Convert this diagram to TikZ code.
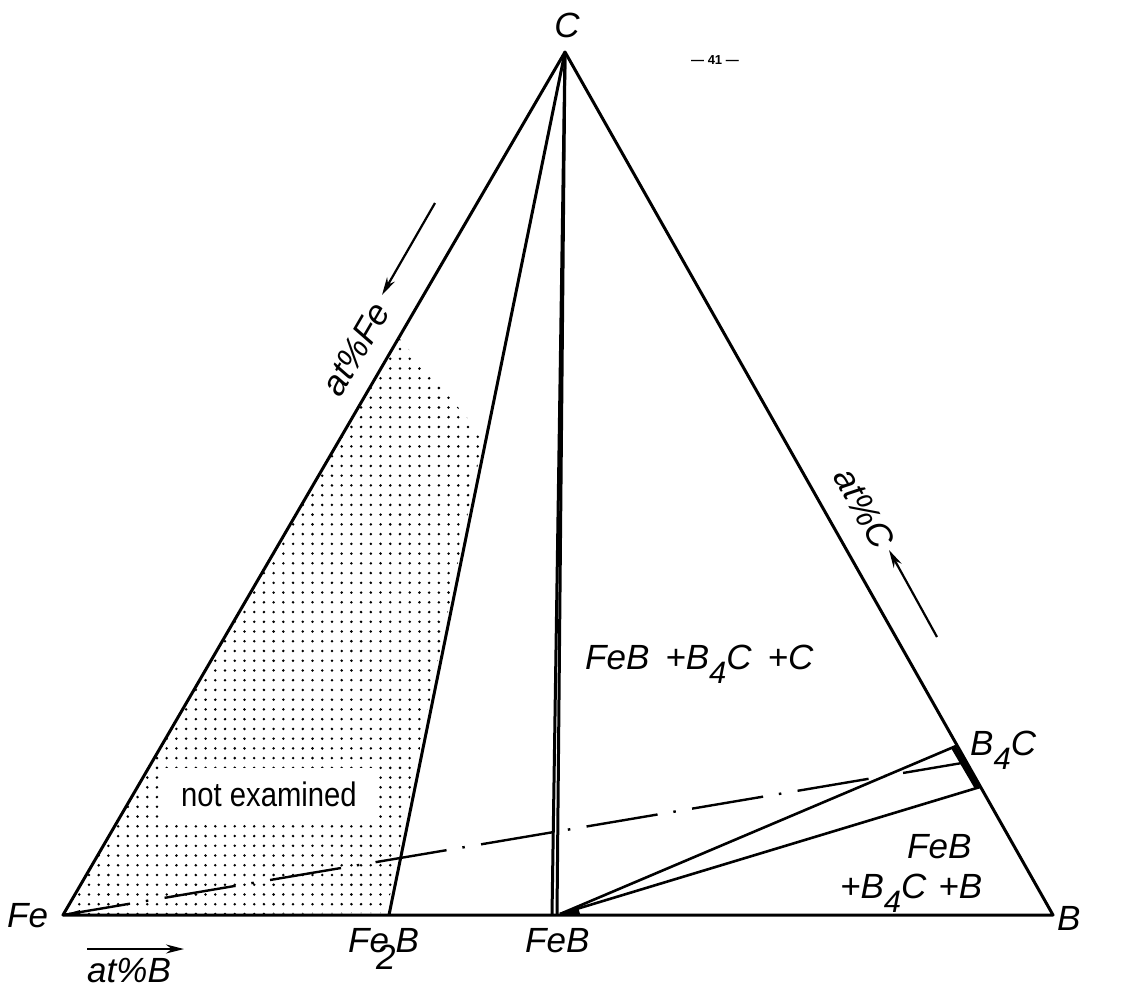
\documentclass[tikz,border=0pt]{standalone}
\usepackage{fontspec}
\usepackage{graphicx}
\setmainfont{Liberation Sans}
\usetikzlibrary{arrows.meta}
\newcommand{\lowsub}[1]{\raisebox{-14pt}{\fontsize{31}{31}\selectfont #1}}
\begin{document}
\begin{tikzpicture}[x=1pt,y=-1pt,
  edge/.style={line width=3pt,line join=round},
  tie/.style={line width=2.6pt},
  dashdot/.style={line width=2.4pt,dash pattern=on 72pt off 16pt on 2.5pt off 16.5pt,dash phase=4pt},
  lbl/.style={font=\fontsize{35}{40}\selectfont\itshape,inner sep=0pt},
  arr/.style={line width=2.2pt,-{Stealth[length=18pt,width=9pt]}}]
\useasboundingbox[fill=white] (0,0) rectangle (1130,991);
% vertices and composition points
\coordinate (Fe) at (63,915);
\coordinate (B) at (1053,915);
\coordinate (C) at (565,52);
\coordinate (Fe2B) at (389,915);
\coordinate (FeBa) at (552,915);
\coordinate (FeBb) at (557,915);
\coordinate (FeBt) at (560,914);
\coordinate (BCa) at (956,746);
\coordinate (BCb) at (980,787);
\coordinate (dd) at (962,763);
% dotted "not examined" region
\begin{scope}
  \clip (63,915) -- (399,338) -- (483.5,437) -- (386.4,913) -- cycle;
  \foreach \i in {0,...,43}{\foreach \j in {0,...,59}{
    \fill (69.5+9.72*\i,339.3+9.74*\j) circle (1.4pt);}}
\end{scope}
\node[fill=white,minimum width=218pt,minimum height=53pt,inner sep=0pt] (notex) at (269,794.5)
  {\scalebox{0.86}[1]{\fontsize{34}{34}\selectfont not examined}};
% triangle and phase lines
\draw[edge] (Fe) -- (C) -- (B) -- cycle;
\draw[edge] (C) -- (Fe2B);
\draw[edge] (C) -- (FeBa);
\draw[edge] (C) -- (FeBb);
\draw[tie] (FeBt) -- (BCa);
\draw[tie] (FeBt) -- (BCb);
\fill (BCa) -- (BCb) -- (975,789) -- (951,748) -- cycle;
\fill (557,915) -- (578,907) -- (580,914) -- cycle;
\fill (Fe) -- (80,910) -- (80,915) -- cycle;
\draw[dashdot] (Fe) -- (dd);
% labels
\node[lbl,anchor=base] (lC) at (567,37) {C};
\node[lbl,anchor=base west] (lFe) at (7,927) {Fe};
\node[lbl,anchor=base west] (lFe2B) at (348,952) {Fe\kern-13pt\raisebox{-17pt}{2}B};
\node[lbl,anchor=base west] (lFeB) at (525,952) {FeB};
\node[lbl,anchor=base west] (lB) at (1057,930) {B};
\node[lbl,anchor=base west] (lB4C) at (970,755) {B\lowsub{4}C};
\node[lbl,anchor=base west] (reg1) at (585,669) {FeB\hspace{16pt}+B\lowsub{4}C\hspace{16pt}+C};
\node[lbl,anchor=base west] (reg2a) at (907,858) {FeB};
\node[lbl,anchor=base west] (reg2b) at (840,898) {+B\lowsub{4}C\hspace{12pt}+B};
\node[lbl,rotate=59.8] (atFe) at (356,349) {at\%Fe};
\node[lbl,rotate=-60.6] (atC) at (864,508) {at\%C};
\node[lbl,anchor=base west] (atB) at (87,982) {at\%B};
\node[font=\fontsize{13}{15}\selectfont\bfseries,inner sep=0pt] (page) at (715,60) {--- 41 ---};
% arrows
\coordinate (aFe1) at (435,203); \coordinate (aFe2) at (382,295);
\coordinate (aC1) at (937,637); \coordinate (aC2) at (889,550);
\coordinate (aB1) at (87,949); \coordinate (aB2) at (184,949);
\draw[arr] (aFe1) -- (aFe2);
\draw[arr] (aC1) -- (aC2);
\draw[arr] (aB1) -- (aB2);
\end{tikzpicture}
\end{document}
